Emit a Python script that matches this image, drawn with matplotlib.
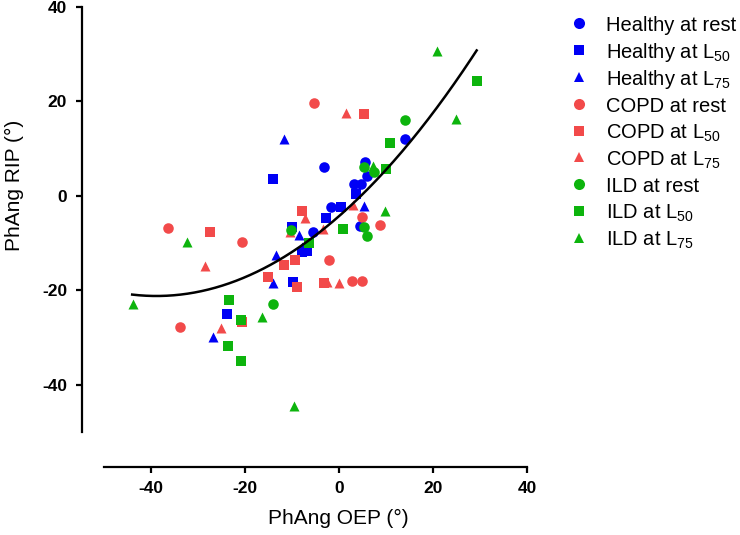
import numpy as np
import matplotlib
matplotlib.use("Agg")
import matplotlib.pyplot as plt
from matplotlib.lines import Line2D

plt.rcParams['font.family'] = ['Liberation Sans', 'DejaVu Sans']
plt.rcParams['mathtext.default'] = 'regular'
plt.rcParams['axes.unicode_minus'] = False

# values (PhAng OEP, PhAng RIP)
healthy_rest_x = [-3.2, 5.6, 5.9, 3.1, 4.7, -1.7, -5.5, 4.4, 14.1]
healthy_rest_y = [6.1, 7.1, 4.2, 2.5, 2.5, -2.4, -7.7, -6.4, 12.0]
healthy_l50_x = [-14.1, -10.0, 0.5, 3.7, -2.7, -23.9, -9.7, -6.9, -7.9]
healthy_l50_y = [3.6, -6.5, -2.3, 0.4, -4.7, -25.0, -18.2, -11.6, -11.9]
healthy_l75_x = [-11.8, -13.4, -8.4, 5.3, -14.0, -26.8, -7.8]
healthy_l75_y = [12.1, -12.5, -8.3, -2.1, -18.5, -29.9, -10.8]

copd_rest_x = [-36.4, -20.6, -5.4, 4.9, 8.7, -2.2, 2.8, 4.8, -33.9]
copd_rest_y = [-6.7, -9.8, 19.6, -4.4, -6.2, -13.6, -18.0, -18.0, -27.7]
copd_l50_x = [-27.5, -7.8, -11.6, -9.4, -15.1, 5.3, -9.0, -3.2, -20.6]
copd_l50_y = [-7.7, -3.3, -14.7, -13.5, -17.2, 17.3, -19.2, -18.5, -26.6]
copd_l75_x = [-28.6, -10.5, -7.3, 1.4, 3.0, -3.4, -25.1, -2.5, 0.0]
copd_l75_y = [-14.8, -7.7, -4.7, 17.5, -1.9, -7.1, -28.0, -18.2, -18.5]

ild_rest_x = [-10.1, 14.1, 5.4, 7.4, 5.4, 6.0, -14.1]
ild_rest_y = [-7.2, 16.0, 6.1, 5.1, -6.5, -8.5, -22.9]
ild_l50_x = [10.8, 10.1, 0.9, -6.4, -23.3, -20.8, -23.7, -20.8, 29.4]
ild_l50_y = [11.3, 5.6, -7.1, -10.0, -22.0, -26.3, -31.8, -35.0, 24.4]
ild_l75_x = [-32.4, 20.9, 7.2, 9.9, -16.3, -9.6, 24.8, -43.8]
ild_l75_y = [-9.7, 30.6, 6.3, -3.3, -25.7, -44.5, 16.3, -22.8]

# quadratic fit drawn on the chart (coefficients)
fit_coef = [0.0112, 0.87, -4.3]
fit_range = [-44.0, 29.3]

labels = ["Healthy at rest", "Healthy at L$_{50}$", "Healthy at L$_{75}$",
          "COPD at rest", "COPD at L$_{50}$", "COPD at L$_{75}$",
          "ILD at rest", "ILD at L$_{50}$", "ILD at L$_{75}$"]
xs = [healthy_rest_x, healthy_l50_x, healthy_l75_x,
      copd_rest_x, copd_l50_x, copd_l75_x,
      ild_rest_x, ild_l50_x, ild_l75_x]
ys = [healthy_rest_y, healthy_l50_y, healthy_l75_y,
      copd_rest_y, copd_l50_y, copd_l75_y,
      ild_rest_y, ild_l50_y, ild_l75_y]

blue, red, green = '#0000f5', '#f24a4a', '#0db40d'
colors = [blue] * 3 + [red] * 3 + [green] * 3
markers = ['o', 's', '^'] * 3
sizes = {'o': 7.6, 's': 7.0, '^': 7.2}

fig = plt.figure(figsize=(7.4, 5.35), dpi=100)
ax = fig.add_axes([0.1405, 0.1925, 0.5716, 0.7944])

for x, y, c, m in zip(xs, ys, colors, markers):
    ax.scatter(x, y, s=sizes[m] ** 2, marker=m, color=c, linewidths=0, zorder=3)

fx = np.linspace(fit_range[0], fit_range[1], 200)
ax.plot(fx, np.polyval(fit_coef, fx), color='black', lw=1.8, zorder=4)

ax.set_xlim(-50, 40)
ax.set_ylim(-50, 40)
ax.set_xticks([-40, -20, 0, 20, 40])
ax.set_yticks([-40, -20, 0, 20, 40])

for side in ['top', 'right']:
    ax.spines[side].set_visible(False)
ax.spines['left'].set_position(('outward', 16))
ax.spines['bottom'].set_position(('outward', 25))
for side in ['left', 'bottom']:
    ax.spines[side].set_linewidth(1.6)
ax.tick_params(width=1.6, length=4.5, direction='out', pad=6, labelsize=12.5)
for lab in ax.get_xticklabels() + ax.get_yticklabels():
    lab.set_fontweight('bold')

ax.set_xlabel("PhAng OEP (°)", fontsize=15)
ax.set_ylabel("PhAng RIP (°)", fontsize=15)
ax.xaxis.set_label_coords(0.553, -0.18)
ax.yaxis.set_label_coords(-0.19, 0.58)

# legend drawn at fixed rows on the right
for i, (lab, c, m) in enumerate(zip(labels, colors, markers)):
    py = 23.3 + 26.8 * i
    fy = 1 - py / 535
    fig.add_artist(Line2D([579 / 740], [fy], marker=m, color=c, markersize=sizes[m] * 1.05,
                          markeredgewidth=0, linestyle='none', transform=fig.transFigure))
    fig.text(606 / 740, 1 - (py + 8) / 535, lab, fontsize=14.5, va='baseline', ha='left')

fig.savefig("out.png", dpi=100)
